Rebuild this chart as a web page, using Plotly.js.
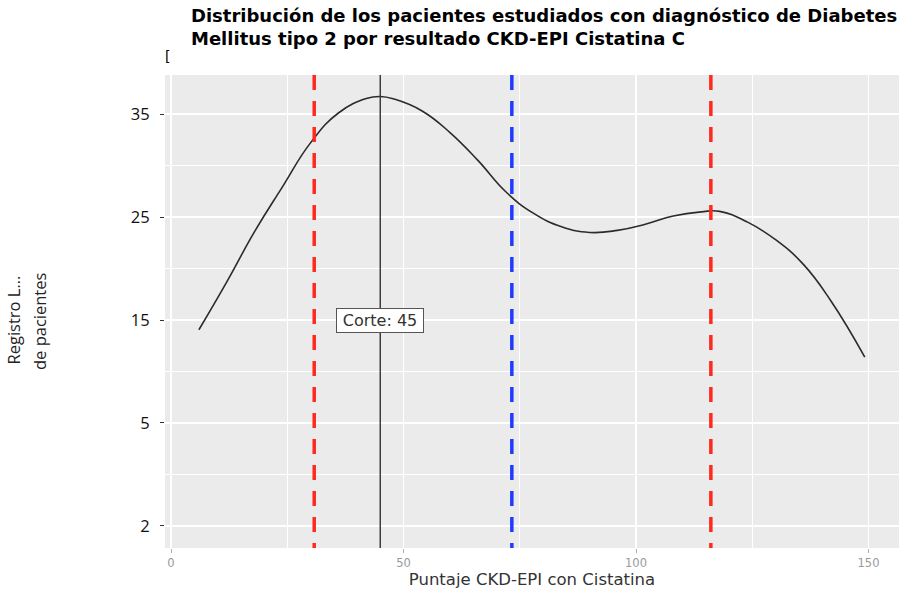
<!DOCTYPE html>
<html>
<head>
<meta charset="utf-8">
<script src="https://cdn.plot.ly/plotly-3.0.1.min.js"></script>
<style>html,body{margin:0;padding:0;background:#fff;}#chart{width:899px;height:590px;}</style>
</head>
<body>
<div id="chart"></div>
<script>
// Density curve
const curveX = [6, 12, 18, 24, 30, 36, 42, 45, 48, 54, 60, 66, 72, 78, 84, 90, 96, 102, 108, 114, 118, 124, 130, 136, 142, 149.2];
const curveY = [14.05, 18.7, 23.6, 27.95, 32.2, 35.1, 36.5, 36.7, 36.45, 35.3, 33.2, 30.5, 27.45, 25.35, 24.05, 23.5, 23.7, 24.3, 25.1, 25.5, 25.55, 24.5, 22.8, 20.4, 16.8, 11.4];

// Reference lines
const redLines = [30.8, 116.1];
const blueLines = [73.3];
const cutoff = 45;
const cutoffLabel = "Corte: 45";
const cutoffLabelY = 14.95;

// Tick labels
const yTickVals = [-5, 5, 15, 25, 35];
const yTickText = ["2", "5", "15", "25", "35"];
const xTickVals = [0, 50, 100, 150];
const xTickText = ["0", "50", "100", "150"];

const titleText = "Distribución de los pacientes estudiados con diagnóstico de Diabetes<br>Mellitus tipo 2 por resultado CKD-EPI Cistatina C";
const xTitle = "Puntaje CKD-EPI con Cistatina";
const yTitle1 = "Registro L...";
const yTitle2 = "de pacientes";

const PLOT_L = 165, PLOT_T = 75, PLOT_B = 548;
const plotH = PLOT_B - PLOT_T;

const traces = [{
  x: curveX, y: curveY, type: 'scatter', mode: 'lines',
  line: {color: '#2b2b2b', width: 1.6, shape: 'spline', smoothing: 1.3},
  hoverinfo: 'skip', showlegend: false
}];

const shapes = [];
redLines.forEach(v => shapes.push({type: 'line', xref: 'x', yref: 'paper', x0: v, x1: v, y0: 1, y1: 0,
  line: {color: '#ff2a1f', width: 3.5, dash: '15px,11px'}, layer: 'above'}));
blueLines.forEach(v => shapes.push({type: 'line', xref: 'x', yref: 'paper', x0: v, x1: v, y0: 1, y1: 0,
  line: {color: '#1f3bff', width: 3.5, dash: '15px,11px'}, layer: 'above'}));
shapes.push({type: 'line', xref: 'x', yref: 'paper', x0: cutoff, x1: cutoff, y0: 0, y1: 1,
  line: {color: '#333333', width: 1.4}, layer: 'above'});

const layout = {
  width: 899, height: 590,
  margin: {l: PLOT_L, r: 0, t: PLOT_T, b: 590 - PLOT_B},
  paper_bgcolor: '#ffffff', plot_bgcolor: '#ebebeb',
  font: {family: 'DejaVu Sans, sans-serif', color: '#333'},
  xaxis: {
    range: [-1.29, 156.56], tickvals: xTickVals, ticktext: xTickText,
    showgrid: true, gridcolor: '#ffffff', gridwidth: 1.2, zeroline: false,
    ticks: 'outside', ticklen: 4, tickcolor: '#b0b0b0', tickwidth: 1,
    tickfont: {family: 'DejaVu Sans, sans-serif', size: 11.5, color: '#9a9a9a'},
    minor: {tick0: 0, dtick: 25, showgrid: true, gridcolor: '#ffffff', gridwidth: 1, ticks: ''},
    title: {text: xTitle, font: {family: 'DejaVu Sans, sans-serif', size: 16.5, color: '#333'}, standoff: 3},
    showline: false, fixedrange: true
  },
  yaxis: {
    range: [-7.14, 38.79], tickvals: yTickVals, ticktext: yTickText,
    showgrid: true, gridcolor: '#ffffff', gridwidth: 1.2, zeroline: false,
    ticks: 'outside', ticklen: 4, tickcolor: '#333', tickwidth: 1,
    ticklabelstandoff: 7,
    tickfont: {family: 'Open Sans, sans-serif', size: 16.5, color: '#111'},
    minor: {tick0: 0, dtick: 10, showgrid: true, gridcolor: '#ffffff', gridwidth: 1, ticks: ''},
    showline: false, fixedrange: true
  },
  shapes: shapes,
  annotations: [
    {x: 0, y: 1, xref: 'paper', yref: 'paper', xshift: 189 - PLOT_L, yshift: PLOT_T - 3,
     text: titleText, showarrow: false, xanchor: 'left', yanchor: 'top', align: 'left',
     font: {family: 'DejaVu Sans, sans-serif', size: 18, color: '#000', weight: 'bold'}},
    {x: cutoff, y: cutoffLabelY, xref: 'x', yref: 'y', text: cutoffLabel, showarrow: false,
     bgcolor: '#ffffff', bordercolor: '#555555', borderwidth: 1, borderpad: 3,
     width: 80, height: 17, align: 'center',
     font: {family: 'DejaVu Sans, sans-serif', size: 16, color: '#333'}},
    {x: 0, y: (PLOT_B - 320) / plotH, xref: 'paper', yref: 'paper', xshift: 12.5 - PLOT_L, text: yTitle1,
     textangle: -90, showarrow: false, xanchor: 'center', yanchor: 'middle',
     font: {family: 'Open Sans, sans-serif', size: 16.5, color: '#222'}},
    {x: 0, y: (PLOT_B - 321) / plotH, xref: 'paper', yref: 'paper', xshift: 39 - PLOT_L, text: yTitle2,
     textangle: -90, showarrow: false, xanchor: 'center', yanchor: 'middle',
     font: {family: 'Open Sans, sans-serif', size: 16.5, color: '#222'}},
    {x: 0, y: 1, xref: 'paper', yref: 'paper', xshift: 167 - PLOT_L, yshift: PLOT_T - 56, text: '[', showarrow: false,
     xanchor: 'center', yanchor: 'middle', font: {family: 'DejaVu Sans, sans-serif', size: 14, color: '#000'}}
  ]
};

Plotly.newPlot('chart', traces, layout, {displayModeBar: false, staticPlot: true});
</script>
</body>
</html>
